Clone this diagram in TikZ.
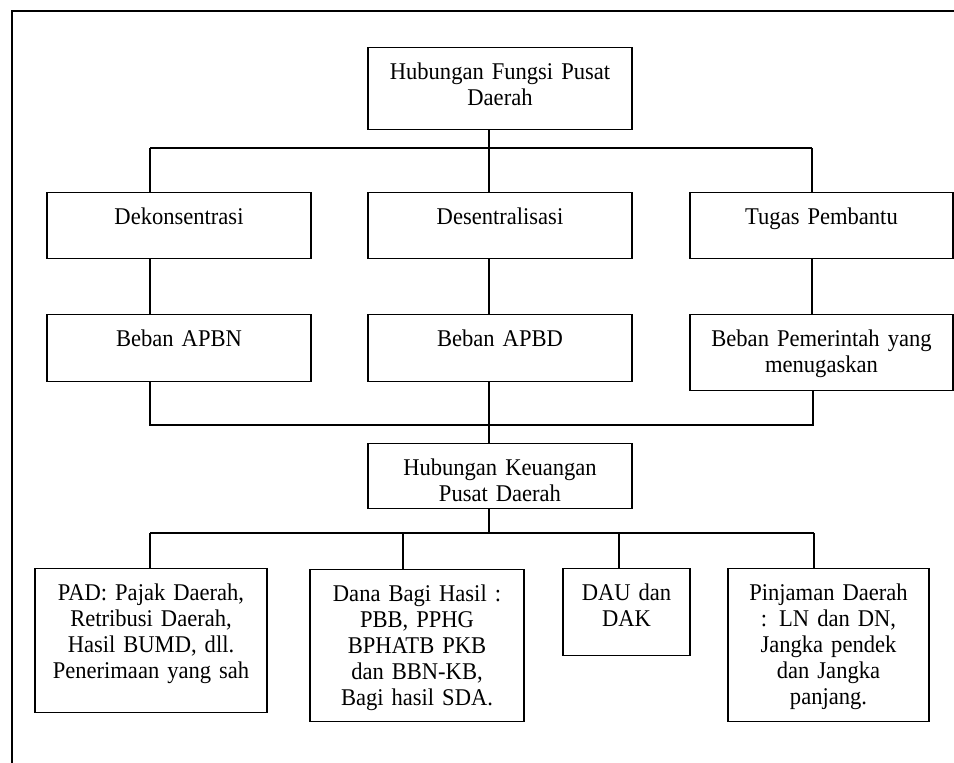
\documentclass[tikz,border=0pt]{standalone}
\usepackage{fontspec}
\setmainfont[FakeStretch=0.94]{Liberation Serif}
\tikzset{
  box/.style={rectangle, draw=black, line width=1.3pt, anchor=north, align=center,
              inner xsep=4pt, inner ysep=0pt, text height=32pt,
              font=\fontsize{24}{26}\selectfont},
  link/.style={draw=black, line width=1.3pt},
  frame/.style={draw=black, line width=2pt}
}
\begin{document}
\begin{tikzpicture}[x=1pt, y=-1pt]
\useasboundingbox (0,0) rectangle (954,763);
\draw[frame] (954,11) -- (12,11) -- (12,763);
\node[box, text width=256pt, text depth=50pt] (fungsi) at (500,47) {Hubungan Fungsi Pusat\\Daerah};
\node[box, text width=256pt, text depth=34pt] (dekon) at (179,192) {Dekonsentrasi};
\node[box, text width=256pt, text depth=34pt] (desen) at (500,192) {Desentralisasi};
\node[box, text width=255pt, text depth=34pt] (tugas) at (821.5,192) {Tugas Pembantu};
\node[box, text width=256pt, text depth=35pt] (apbn) at (179,314) {Beban APBN};
\node[box, text width=256pt, text depth=35pt] (apbd) at (500,314) {Beban APBD};
\node[box, text width=255pt, text depth=44pt] (pemda) at (821.5,314) {Beban Pemerintah yang\\menugaskan};
\node[box, text width=256pt, text depth=33pt] (keu) at (500,443) {Hubungan Keuangan\\Pusat Daerah};
\node[box, text width=224pt, text depth=112pt] (pad) at (151,568) {PAD: Pajak Daerah,\\Retribusi Daerah,\\Hasil BUMD, dll.\\Penerimaan yang sah};
\node[box, text width=206pt, text depth=120pt] (dbh) at (417,569) {Dana Bagi Hasil :\\PBB, PPHG\\BPHATB PKB\\dan BBN-KB,\\Bagi hasil SDA.};
\node[box, text width=119pt, text depth=55pt] (dau) at (626.5,568) {DAU dan\\DAK};
\node[box, text width=193pt, text depth=121pt] (pinjam) at (828.5,568) {Pinjaman Daerah\\: LN dan DN,\\Jangka pendek\\dan Jangka\\panjang.};
\coordinate (ja) at (489,148);
\coordinate (ja-l) at (150,148);
\coordinate (ja-r) at (812,148);
\coordinate (jb) at (489,425);
\coordinate (jb-l) at (150,425);
\coordinate (jb-r) at (813,425);
\coordinate (jc) at (489,533);
\coordinate (jc-l) at (150,533);
\coordinate (jc-b) at (403,533);
\coordinate (jc-c) at (619,533);
\coordinate (jc-r) at (814,533);
\draw[link] (fungsi.south -| ja) -- (ja);
\draw[link] (ja-l) -- (ja-r);
\draw[link] (ja-l) -- (dekon.north -| ja-l);
\draw[link] (ja) -- (desen.north -| ja);
\draw[link] (ja-r) -- (tugas.north -| ja-r);
\draw[link] (dekon.south -| ja-l) -- (apbn.north -| ja-l);
\draw[link] (desen.south -| ja) -- (apbd.north -| ja);
\draw[link] (tugas.south -| ja-r) -- (pemda.north -| ja-r);
\draw[link] (apbn.south -| jb-l) -- (jb-l) -- (jb-r) -- (pemda.south -| jb-r);
\draw[link] (apbd.south -| jb) -- (jb) -- (keu.north -| jb);
\draw[link] (keu.south -| jc) -- (jc);
\draw[link] (jc-l) -- (jc-r);
\draw[link] (jc-l) -- (pad.north -| jc-l);
\draw[link] (jc-b) -- (dbh.north -| jc-b);
\draw[link] (jc-c) -- (dau.north -| jc-c);
\draw[link] (jc-r) -- (pinjam.north -| jc-r);
\end{tikzpicture}
\end{document}
